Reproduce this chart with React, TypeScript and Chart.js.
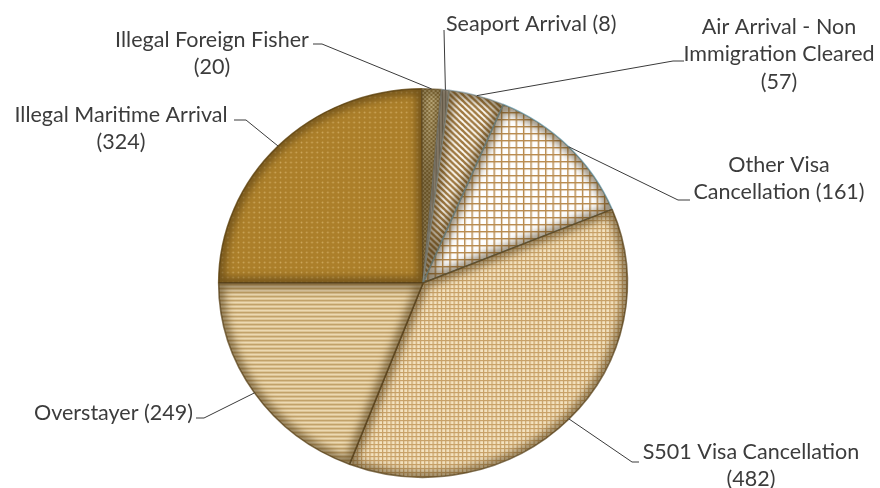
import React, { useEffect, useRef } from "react";
import { Chart, registerables } from "chart.js";
Chart.register(...registerables);

// ---- data ----
const categories = [
  "Illegal Maritime Arrival",
  "Illegal Foreign Fisher",
  "Seaport Arrival",
  "Air Arrival - Non Immigration Cleared",
  "Other Visa Cancellation",
  "S501 Visa Cancellation",
  "Overstayer",
];
const values = [324, 20, 8, 57, 161, 482, 249];
const labelLines = [
  ["Illegal Maritime Arrival", "(324)"],
  ["Illegal Foreign Fisher", "(20)"],
  ["Seaport Arrival (8)"],
  ["Air Arrival - Non", "Immigration Cleared", "(57)"],
  ["Other Visa", "Cancellation (161)"],
  ["S501 Visa Cancellation", "(482)"],
  ["Overstayer (249)"],
];

// ---- layout / style (not data) ----
const SX = 1.052; // horizontal stretch of the pie (ellipse)
const TSX = 1.05; // horizontal stretch of the text
const labelLayout = [
  { x: 121, y: 115, align: "center", hx1: 234, hx2: 246, hy: 120 },
  { x: 212, y: 40, align: "center", hx1: 313, hx2: 322, hy: 44 },
  { x: 446, y: 24, align: "left", hx1: 444, hx2: 444, hy: 30 },
  { x: 779, y: 27, align: "center", hx1: 684, hx2: 673, hy: 61 },
  { x: 779, y: 165, align: "center", hx1: 690, hx2: 678, hy: 200 },
  { x: 751, y: 452, align: "center", hx1: 639, hx2: 632, hy: 462 },
  { x: 193, y: 413, align: "right", hx1: 196, hx2: 204, hy: 418 },
];
const borderColors = [
  "rgba(100,72,20,0.8)",
  "rgba(120,100,60,0.7)",
  "#9aa6ae",
  "#a9bcc4",
  "#86b0bf",
  "rgba(95,72,32,0.75)",
  "rgba(95,72,32,0.75)",
];

function tile(w: number, h: number, draw: (g: CanvasRenderingContext2D) => void) {
  const c = document.createElement("canvas");
  c.width = w;
  c.height = h;
  const g = c.getContext("2d")!;
  draw(g);
  return g.createPattern(c, "repeat")!;
}

function makePatterns() {
  const maritime = tile(5, 5, (g) => {
    g.fillStyle = "#AC7F2A";
    g.fillRect(0, 0, 5, 5);
    g.fillStyle = "#CCA65C";
    g.beginPath();
    g.arc(2.5, 2.5, 0.9, 0, Math.PI * 2);
    g.fill();
  });
  const fisher = tile(4, 4, (g) => {
    g.fillStyle = "#D8C797";
    g.fillRect(0, 0, 4, 4);
    g.fillStyle = "#9C844C";
    g.fillRect(0, 0, 2, 2);
    g.fillRect(2, 2, 2, 2);
  });
  const seaport = tile(3, 3, (g) => {
    g.fillStyle = "#D0D2D6";
    g.fillRect(0, 0, 3, 3);
    g.fillStyle = "#8C8F95";
    g.fillRect(0, 0, 1, 3);
  });
  const air = tile(6, 6, (g) => {
    g.fillStyle = "#FFFCF4";
    g.fillRect(0, 0, 6, 6);
    g.strokeStyle = "#A07A43";
    g.lineWidth = 2.3;
    for (const k of [-6, 0, 6]) {
      g.beginPath();
      g.moveTo(-1, -1 + k);
      g.lineTo(7, 7 + k);
      g.stroke();
    }
  });
  const other = tile(7, 7, (g) => {
    g.fillStyle = "#FFFFFF";
    g.fillRect(0, 0, 7, 7);
    g.fillStyle = "#B98C50";
    g.fillRect(0, 0, 7, 1.4);
    g.fillRect(0, 0, 1.4, 7);
  });
  const s501 = tile(4, 4, (g) => {
    g.fillStyle = "#F4E3C0";
    g.fillRect(0, 0, 4, 4);
    g.fillStyle = "#C9A268";
    g.fillRect(0, 0, 4, 1.2);
    g.fillRect(0, 0, 1.2, 4);
  });
  const over = tile(2, 4, (g) => {
    const rows = ["#C2A26A", "#D8BE8E", "#ECD9B2", "#DDC597"];
    rows.forEach((c, i) => {
      g.fillStyle = c;
      g.fillRect(0, i, 2, 1);
    });
  });
  return [maritime, fisher, seaport, air, other, s501, over];
}

function arcPath(ctx: CanvasRenderingContext2D, a: any) {
  ctx.beginPath();
  ctx.moveTo(a.x, a.y);
  ctx.arc(a.x, a.y, a.outerRadius, a.startAngle, a.endAngle);
  ctx.closePath();
}

const stretchPlugin = {
  id: "stretch",
  beforeDatasetsDraw(chart: any) {
    const meta = chart.getDatasetMeta(0);
    const cx = meta.data[0].x;
    const ctx = chart.ctx;
    ctx.save();
    ctx.translate(cx, 0);
    ctx.scale(SX, 1);
    ctx.translate(-cx, 0);
  },
  afterDatasetsDraw(chart: any) {
    const ctx = chart.ctx;
    const meta = chart.getDatasetMeta(0);
    meta.data.forEach((a: any) => {
      ctx.save();
      arcPath(ctx, a);
      ctx.clip();
      ctx.filter = "blur(4px)";
      ctx.lineWidth = 10;
      ctx.strokeStyle = "rgba(70,50,15,0.6)";
      arcPath(ctx, a);
      ctx.stroke();
      ctx.restore();
    });
    ctx.restore();
  },
};

const labelPlugin = {
  id: "outLabels",
  afterDraw(chart: any) {
    const ctx = chart.ctx;
    const meta = chart.getDatasetMeta(0);
    ctx.save();
    meta.data.forEach((a: any, i: number) => {
      const L = labelLayout[i];
      const mid = (a.startAngle + a.endAngle) / 2;
      const px = a.x + SX * a.outerRadius * Math.cos(mid);
      const py = a.y + a.outerRadius * Math.sin(mid);
      ctx.strokeStyle = "#3a3a3a";
      ctx.lineWidth = 1;
      ctx.beginPath();
      ctx.moveTo(L.hx1, L.hy);
      ctx.lineTo(L.hx2, L.hy);
      ctx.lineTo(px, py);
      ctx.stroke();
      ctx.fillStyle = "#3c3c3c";
      ctx.font = "20.5px Lato";
      ctx.textBaseline = "middle";
      ctx.textAlign = L.align as CanvasTextAlign;
      labelLines[i].forEach((t, j) => {
        ctx.save();
        ctx.translate(L.x, L.y + j * 27.5);
        ctx.scale(TSX, 1);
        ctx.fillText(t, 0, 0);
        ctx.restore();
      });
    });
    ctx.restore();
  },
};

export default function App() {
  const ref = useRef<HTMLCanvasElement>(null);
  useEffect(() => {
    const chart = new Chart(ref.current!, {
      type: "pie",
      data: {
        labels: categories,
        datasets: [
          {
            data: values,
            backgroundColor: makePatterns() as any,
            borderColor: borderColors,
            borderWidth: 1.5,
          },
        ],
      },
      options: {
        animation: false,
        responsive: false,
        rotation: 270,
        layout: { padding: { top: 88, bottom: 10, left: 198, right: 232 } },
        plugins: { legend: { display: false }, tooltip: { enabled: false } },
        events: [],
      },
      plugins: [stretchPlugin, labelPlugin],
    });
    return () => chart.destroy();
  }, []);
  return (
    <div style={{ position: "fixed", left: 0, top: 0, width: 880, height: 488, background: "#fff" }}>
      <canvas ref={ref} width={880} height={488} />
    </div>
  );
}
